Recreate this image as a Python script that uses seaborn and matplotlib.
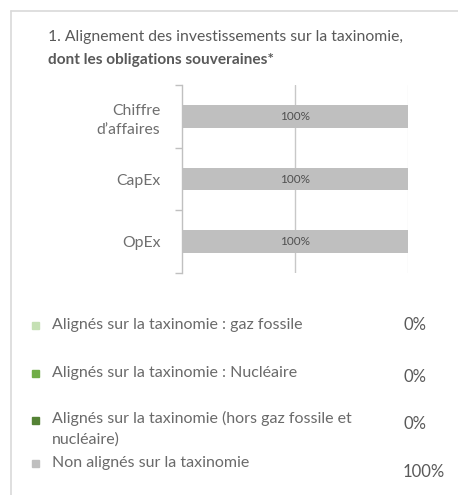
import matplotlib
matplotlib.use("Agg")
import matplotlib.pyplot as plt
import seaborn as sns
import pandas as pd
import numpy as np
from matplotlib.lines import Line2D
from matplotlib.patches import Rectangle

categories = ["Chiffre\nd’affaires", "CapEx", "OpEx"]
gaz_fossile = [0, 0, 0]
nucleaire = [0, 0, 0]
hors_gaz_nucl = [0, 0, 0]
non_alignes = [100, 100, 100]
bar_labels = ["100%", "100%", "100%"]

legend_labels = [
    "Alignés sur la taxinomie : gaz fossile",
    "Alignés sur la taxinomie : Nucléaire",
    "Alignés sur la taxinomie (hors gaz fossile et\nnucléaire)",
    "Non alignés sur la taxinomie",
]
legend_values = ["0%", "0%", "0%", "100%"]
colors = ["#c5e0b4", "#70ad47", "#548235", "#bfbfbf"]

sns.set_theme(style="white")
plt.rcParams["font.family"] = ["Lato", "DejaVu Sans"]
TXT = "#595959"

df = pd.DataFrame({
    "cat": categories,
    "gaz": gaz_fossile,
    "nucl": nucleaire,
    "hors": hors_gaz_nucl,
    "non": non_alignes,
})
df["c1"] = df["gaz"]
df["c2"] = df["c1"] + df["nucl"]
df["c3"] = df["c2"] + df["hors"]
df["c4"] = df["c3"] + df["non"]

W, H = 458, 495
fig = plt.figure(figsize=(W / 100, H / 100), dpi=100)
ax = fig.add_axes([182 / W, 1 - 273 / H, (408 - 182) / W, (273 - 85) / H])

for col, c in zip(["c4", "c3", "c2", "c1"], colors[::-1]):
    sns.barplot(data=df, y="cat", x=col, orient="h", color=c, width=0.36,
                ax=ax, saturation=1, linewidth=0, zorder=3)

ax.set_xlim(0, 100)
ax.set_ylim(2.5, -0.5)
ax.set_xlabel("")
ax.set_ylabel("")
ax.set_xticks([])
ax.axvline(50, color="#c8c8c8", lw=1, zorder=1)
ax.axvline(100, color="#ececec", lw=1, zorder=1)
for s in ["top", "right", "bottom"]:
    ax.spines[s].set_visible(False)
ax.spines["left"].set_color("#c0c0c0")
ax.spines["left"].set_linewidth(1)
ax.tick_params(axis="y", which="major", length=0, pad=15.5, labelsize=11.3, labelcolor="#6e6e6e")
ax.set_yticks(range(len(categories)))
ax.set_yticklabels(categories, ha="right")
for lab in ax.get_yticklabels():
    lab.set_linespacing(1.45)
ax.set_yticks([-0.5, 0.5, 1.5, 2.5], minor=True)
ax.tick_params(axis="y", which="minor", length=5, width=1, color="#c0c0c0", left=True)

for i, t in enumerate(bar_labels):
    ax.text(df["c4"][i] / 2, i, t, ha="center", va="center", fontsize=8.5, color="#505050", zorder=4)

# Title
fig.text(48 / W, 1 - 37 / H, "1. Alignement des investissements sur la taxinomie,",
         fontsize=11.3, color=TXT, va="center", ha="left")
fig.text(48 / W, 1 - 60 / H, "dont les obligations souveraines*",
         fontsize=11.1, color=TXT, va="center", ha="left", fontweight="bold")

# Border
fig.add_artist(Line2D([11 / W, 11 / W], [0, 1 - 11 / H], color="#d9d9d9", lw=1.2))
fig.add_artist(Line2D([11 / W, 1], [1 - 11 / H, 1 - 11 / H], color="#d9d9d9", lw=1.2))

# Legend
sq_y = [325, 373, 420, 463]
txt_y = [325, 373, 420, 463]
val_y = [325, 377, 424, 472]
for lab, val, c, sy, ty, vy in zip(legend_labels, legend_values, colors, sq_y, txt_y, val_y):
    fig.add_artist(Rectangle((32 / W, 1 - (sy + 3.5) / H), 7 / W, 7 / H, color=c,
                             transform=fig.transFigure))
    if "\n" in lab:
        fig.text(52 / W, 1 - (ty - 9) / H, lab, fontsize=11.5, color="#6a6a6a", va="top",
                 ha="left", linespacing=1.55)
    else:
        fig.text(52 / W, 1 - ty / H, lab, fontsize=11.5, color="#6a6a6a", va="center", ha="left")
    fig.text(403 / W, 1 - vy / H, val, fontsize=12, color=TXT, va="center", ha="left")

fig.savefig("out.png", dpi=100)
